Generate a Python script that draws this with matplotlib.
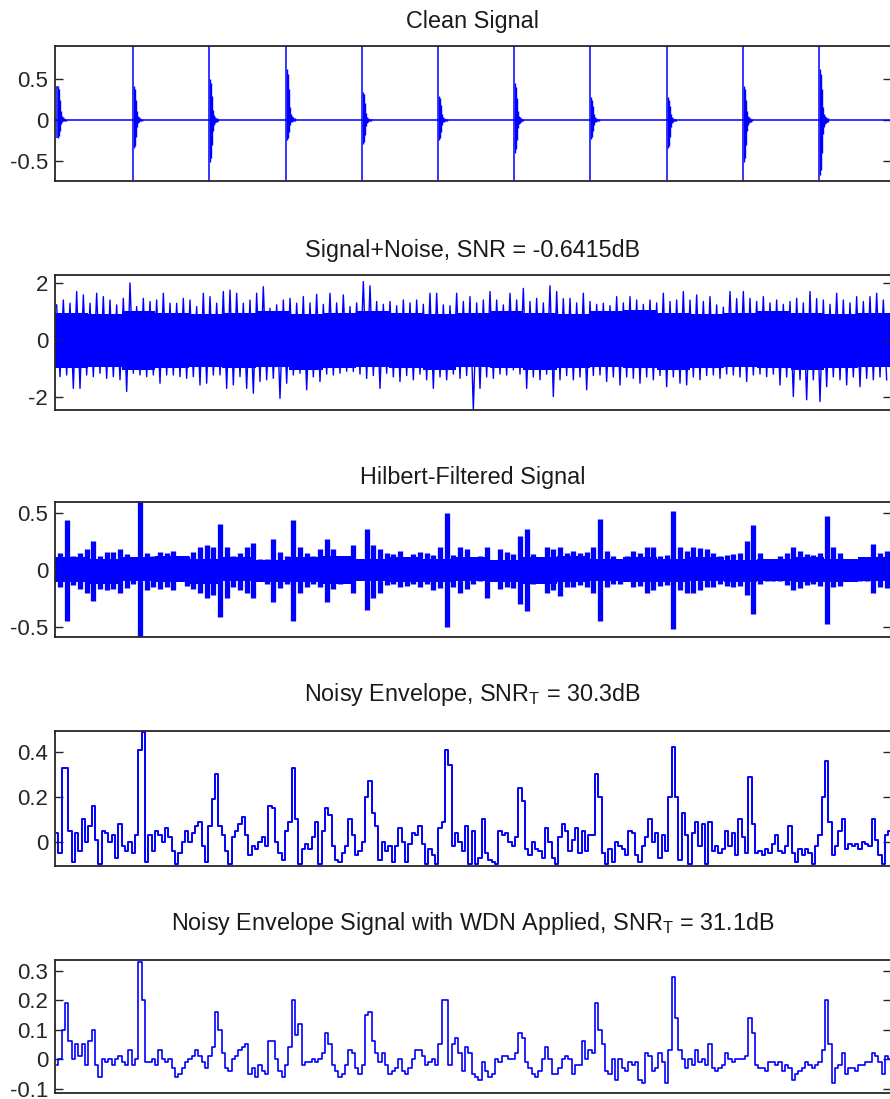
import numpy as np
import matplotlib
matplotlib.use("Agg")
import matplotlib.pyplot as plt

plt.rcParams['font.family'] = ['Liberation Sans', 'DejaVu Sans']
plt.rcParams['axes.unicode_minus'] = False
plt.rcParams['mathtext.fontset'] = 'custom'
plt.rcParams['mathtext.rm'] = 'Liberation Sans'

BLUE = '#0000ff'
FS = 16
FS_TITLE = 16.8

# hidden time axis: one unit per screen column of the original plot
T_END = 836.0
T0 = 5 / 3          # first sample
STEP_FINE = 10 / 3  # envelope sample spacing
STEP_BIN = 20 / 3   # spacing of the max/min bins for dense signals

# ---------------- Clean Signal ----------------
IMPULSE_POS = [2, 78, 154, 231, 307, 383, 459, 535, 612, 688, 764]
IMPULSE_HI = [0.42, 0.91, 0.91, 0.91, 0.91, 0.91, 0.91, 0.91, 0.91, 0.91, 0.91]
IMPULSE_LO = [-0.22, -0.75, -0.75, -0.75, -0.75, -0.75, -0.75, -0.75, -0.75, -0.75, -0.75]
RING_UP = [0.42, 0.42, 0.50, 0.63, 0.35, 0.30, 0.45, 0.28, 0.28, 0.42, 0.63]
RING_DOWN = [0.22, 0.35, 0.52, 0.24, 0.30, 0.25, 0.40, 0.23, 0.35, 0.52, 0.68]
RING_SHAPE = [1.0, 0.9, 0.6, 0.25, 0.12, 0.08, 0.05, 0.04, 0.03]

# ---------------- Signal+Noise (per-bin peaks) ----------------
NOISE_UP = [
    1.23, 1.40, 1.29, 1.70, 1.58, 1.29, 1.64, 1.52, 1.40, 1.23,
    1.46, 2.00, 1.17, 1.46, 1.35, 1.40, 1.64, 1.29, 1.29, 1.46,
    1.40, 1.17, 1.64, 1.52, 1.29, 1.70, 1.75, 1.64, 1.29, 1.40,
    1.64, 1.87, 1.11, 1.23, 1.40, 1.46, 1.29,
    1.52, 1.30, 1.60, 1.25, 1.64, 1.30, 1.58, 1.17, 1.30, 2.05,
    1.90, 1.35, 1.25, 1.35, 1.20, 1.40, 1.30, 1.40, 1.25, 1.64,
    1.64, 1.23, 1.20, 1.64, 1.35, 1.52, 1.30, 1.40, 1.70, 1.40,
    1.23, 1.64, 1.40, 1.81, 1.35, 1.46, 1.30, 1.90, 1.70, 1.45,
    1.46, 1.30, 1.64, 1.35, 1.25, 1.29, 1.20, 1.52, 1.30, 1.52,
    1.40, 1.25, 1.40, 1.30, 1.64, 1.35, 1.40, 1.70, 1.40, 1.58,
    1.35, 1.52, 1.23, 1.15, 1.70, 1.45, 1.70, 1.46, 1.35, 1.52,
    1.30, 1.40, 1.25, 1.35, 1.46, 1.30, 1.70, 1.45, 1.40, 1.25,
    1.64, 1.40, 1.30, 1.52, 1.35, 1.52, 1.64, 1.40,
]
NOISE_DOWN = [
    -1.29, -1.23, -1.70, -1.70, -1.23, -1.29, -1.17, -1.35, -1.29, -1.40,
    -1.81, -1.17, -1.23, -1.29, -1.23, -1.52, -1.23, -1.23, -1.29, -1.35,
    -1.29, -1.58, -1.52, -1.23, -1.23, -1.70, -1.58, -1.29, -1.70, -1.87,
    -1.46, -1.40, -1.35, -2.05, -1.52, -1.23, -1.17,
    -1.75, -1.30, -1.46, -1.20, -1.23, -1.17, -1.10, -1.11, -1.20, -1.35,
    -1.25, -1.70, -1.17, -1.30, -1.46, -1.25, -1.40, -1.20, -1.40, -1.70,
    -1.30, -1.40, -1.20, -1.35, -1.25, -2.46, -1.70, -1.30, -1.35, -1.20,
    -1.23, -1.05, -1.20, -1.70, -1.30, -1.40, -1.20, -1.99, -1.40, -1.25,
    -1.40, -1.30, -1.75, -1.25, -1.23, -1.46, -1.30, -1.58, -1.30, -1.35,
    -1.52, -1.30, -1.40, -1.25, -1.64, -1.30, -1.52, -1.58, -1.30, -1.40,
    -1.25, -1.23, -1.35, -1.20, -1.23, -1.30, -1.46, -1.23, -1.20, -1.29,
    -1.20, -1.58, -1.30, -1.99, -1.40, -2.10, -1.40, -2.16, -1.64, -1.30,
    -1.40, -1.58, -1.30, -1.64, -1.35, -1.40, -1.30, -1.40,
]
NOISE_BODY_TOP = [0.95, 0.90, 1.00, 0.95, 0.90, 0.95, 1.00, 0.90, 0.95, 1.00,
                  0.95, 0.90, 0.95, 1.00, 0.95, 0.90, 1.00, 1.05, 0.95, 0.90,
                  0.95, 1.00, 0.95, 0.90, 0.95]
NOISE_BODY_BOT = [-1.00, -0.95, -1.05, -1.00, -0.95, -1.00, -0.95, -1.05, -1.00, -0.95,
                  -1.00, -1.05, -0.95, -1.00, -1.05, -1.00, -0.95, -1.00, -1.05, -1.00,
                  -0.95, -1.00, -1.05, -1.00, -0.95]

# ---------------- Hilbert-Filtered Signal (per-bin max/min) ----------------
HILB_UP = [
    0.15, 0.44, 0.12, 0.15, 0.18, 0.25, 0.12, 0.16, 0.16, 0.18,
    0.14, 0.10, 0.60, 0.15, 0.12, 0.16, 0.15, 0.17, 0.07, 0.12,
    0.16, 0.20, 0.22, 0.20, 0.40, 0.20, 0.12, 0.15, 0.20, 0.24,
    0.10, 0.10, 0.27, 0.16, 0.12, 0.44, 0.20,
    0.15, 0.12, 0.18, 0.27, 0.18, 0.12, 0.10, 0.22, 0.07, 0.36,
    0.22, 0.18, 0.15, 0.14, 0.17, 0.10, 0.14, 0.16, 0.15, 0.13,
    0.20, 0.50, 0.13, 0.20, 0.18, 0.10, 0.12, 0.20, 0.09, 0.18,
    0.16, 0.14, 0.30, 0.36, 0.14, 0.10, 0.20, 0.18, 0.20, 0.15,
    0.17, 0.15, 0.16, 0.20, 0.45, 0.17, 0.12, 0.10, 0.12, 0.17,
    0.15, 0.20, 0.20, 0.12, 0.13, 0.52, 0.20, 0.17, 0.20, 0.19,
    0.18, 0.15, 0.12, 0.13, 0.14, 0.15, 0.25, 0.39, 0.15, 0.10,
    0.09, 0.12, 0.15, 0.20, 0.17, 0.14, 0.13, 0.15, 0.47, 0.20,
    0.15, 0.10, 0.10, 0.09, 0.10, 0.23, 0.15, 0.17,
]
HILB_LO = [
    -0.15, -0.45, -0.13, -0.17, -0.20, -0.27, -0.17, -0.18, -0.17, -0.20,
    -0.16, -0.12, -0.59, -0.18, -0.15, -0.17, -0.15, -0.18, -0.07, -0.14,
    -0.17, -0.20, -0.25, -0.22, -0.41, -0.25, -0.15, -0.18, -0.20, -0.25,
    -0.10, -0.12, -0.28, -0.16, -0.12, -0.45, -0.20,
    -0.15, -0.12, -0.15, -0.28, -0.17, -0.12, -0.10, -0.20, -0.08, -0.35,
    -0.25, -0.20, -0.13, -0.12, -0.15, -0.14, -0.12, -0.15, -0.12, -0.18,
    -0.16, -0.50, -0.15, -0.20, -0.17, -0.12, -0.10, -0.25, -0.10, -0.17,
    -0.15, -0.16, -0.30, -0.36, -0.12, -0.10, -0.20, -0.18, -0.23, -0.15,
    -0.15, -0.13, -0.15, -0.20, -0.45, -0.15, -0.12, -0.12, -0.10, -0.15,
    -0.14, -0.20, -0.18, -0.14, -0.13, -0.52, -0.18, -0.20, -0.20, -0.18,
    -0.15, -0.15, -0.12, -0.14, -0.15, -0.14, -0.22, -0.39, -0.12, -0.10,
    -0.10, -0.10, -0.13, -0.18, -0.16, -0.13, -0.12, -0.14, -0.47, -0.15,
    -0.14, -0.10, -0.10, -0.10, -0.10, -0.20, -0.15, -0.16,
]
HILB_CORE_TOP = [0.11, 0.10, 0.11, 0.12, 0.10, 0.11, 0.09, 0.11, 0.12, 0.10,
                 0.11, 0.10, 0.11, 0.09, 0.11, 0.12, 0.10, 0.11, 0.10, 0.11,
                 0.09, 0.10, 0.11, 0.10, 0.11]
HILB_CORE_BOT = [-0.11, -0.12, -0.10, -0.11, -0.12, -0.10, -0.11, -0.11, -0.12, -0.10,
                 -0.11, -0.11, -0.10, -0.11, -0.12, -0.11, -0.10, -0.11, -0.11, -0.10,
                 -0.11, -0.10, -0.11, -0.11, -0.10]

# ---------------- Noisy Envelope ----------------
ENV_NOISY = [
    0.04, -0.05, 0.33, 0.33, 0.05, -0.09, 0.04, -0.04, 0.10, 0.00,
    0.07, 0.16, 0.01, -0.10, 0.05, 0.04, 0.00, 0.03, -0.07, 0.08,
    -0.02, -0.04, 0.00, -0.05, 0.03, 0.41, 0.49, -0.09, 0.03, -0.04,
    0.05, 0.03, 0.00, 0.06, 0.02, -0.04, -0.10, -0.05, 0.00, 0.05,
    0.00, 0.04, 0.07, 0.09, -0.02, -0.09, 0.07, 0.19, 0.30, 0.07,
    0.03, -0.04, -0.10, 0.02, 0.05, 0.08, 0.11, 0.03, -0.06, -0.02,
    -0.03, 0.00, 0.02, -0.02, 0.16, 0.15, 0.00, -0.05, -0.08, 0.05,
    0.09, 0.33, 0.10, -0.10,
    -0.03, -0.01, -0.03, 0.02, 0.09, -0.10, 0.05, 0.15, 0.12, -0.02,
    -0.08, -0.09, -0.05, -0.02, 0.10, 0.03, -0.06, -0.04, 0.00, 0.20,
    0.27, 0.13, 0.07, -0.08, 0.00, -0.04, -0.02, -0.09, -0.02, 0.06,
    0.00, -0.09, -0.01, 0.04, 0.03, 0.07, -0.01, -0.10, -0.03, -0.06,
    -0.10, 0.06, 0.09, 0.41, 0.34, -0.02, 0.04, 0.00, -0.04, 0.07,
    -0.10, 0.05, -0.10, -0.07, 0.10, -0.05, -0.08, -0.09, -0.10, 0.05,
    0.03, 0.04, 0.00, -0.02, 0.02, 0.24, 0.18, -0.03, -0.06, 0.00,
    -0.03, -0.04, -0.07, 0.06, 0.00, -0.07, -0.10, 0.02, 0.08, 0.05,
    -0.04, 0.01, 0.06, -0.05, 0.05, -0.04, 0.03, 0.03, 0.30, 0.20,
    -0.05, -0.10, -0.03, -0.09, 0.00, -0.02, -0.03, -0.06, 0.05, 0.04,
    -0.06, -0.09, -0.02, 0.02, 0.10, 0.00, 0.04, -0.07, 0.03, -0.04,
    0.20, 0.42, 0.20, -0.08, 0.13, 0.03, -0.10, 0.04, 0.09, -0.02,
    0.08, -0.10, 0.09, -0.04, -0.02, -0.05, -0.03, 0.05, -0.02, 0.04,
    -0.06, 0.10, 0.02, -0.05, 0.29, 0.08, -0.05, -0.04, -0.06, -0.03,
    -0.05, -0.01, 0.03, -0.04, -0.05, -0.02, 0.07, -0.05, -0.09, -0.03,
    -0.06, -0.03, -0.05, -0.10, -0.02, 0.03, 0.20, 0.36, 0.09, -0.06,
    -0.02, 0.05, 0.10, -0.03, -0.01, -0.02, -0.01, -0.03, 0.00, -0.01,
    -0.02, 0.10, 0.01, -0.06, -0.10, 0.03, 0.05,
]

# ---------------- Envelope with WDN ----------------
ENV_WDN = [
    -0.02, 0.00, 0.10, 0.19, 0.06, 0.00, 0.05, 0.01, 0.05, -0.02,
    0.06, 0.10, -0.02, -0.06, 0.00, -0.01, 0.00, -0.02, 0.00, 0.01,
    -0.01, -0.02, 0.03, -0.02, 0.00, 0.33, 0.20, -0.01, -0.01, 0.00,
    -0.02, 0.03, 0.00, -0.01, 0.00, -0.03, -0.06, -0.05, -0.03, -0.01,
    0.00, 0.01, 0.03, 0.01, -0.01, -0.03, 0.01, 0.04, 0.16, 0.10,
    0.02, -0.03, -0.04, 0.00, 0.01, 0.03, 0.04, 0.05, -0.05, -0.03,
    -0.06, -0.02, -0.04, -0.05, 0.06, 0.06, 0.00, -0.04, -0.06, -0.02,
    0.04, 0.20, 0.08, 0.12,
    -0.02, -0.01, -0.01, 0.00, -0.01, 0.00, 0.02, 0.09, 0.05, -0.02,
    -0.04, -0.06, -0.05, -0.02, 0.03, 0.02, -0.03, -0.05, -0.02, 0.15,
    0.16, 0.06, 0.02, -0.01, 0.02, -0.02, -0.05, -0.04, -0.03, 0.00,
    -0.04, -0.05, -0.03, 0.00, 0.03, 0.03, 0.01, -0.02, -0.01, 0.00,
    -0.02, 0.05, 0.20, 0.20, -0.02, 0.05, 0.07, 0.02, -0.04, 0.04,
    0.02, -0.05, -0.06, -0.07, -0.01, -0.04, -0.06, -0.05, 0.00, -0.01,
    0.01, 0.01, 0.00, 0.00, 0.02, 0.09, 0.07, -0.01, -0.03, -0.05,
    -0.06, -0.04, 0.00, 0.04, 0.00, -0.05, -0.05, -0.03, 0.00, 0.01,
    0.00, -0.05, -0.02, -0.02, 0.06, 0.00, 0.03, 0.02, 0.19, 0.10,
    0.05, -0.04, -0.05, 0.00, -0.07, 0.00, -0.03, -0.04, -0.01, -0.02,
    -0.01, -0.07, -0.08, 0.02, 0.01, -0.04, -0.03, 0.02, -0.01, -0.08,
    0.03, 0.28, 0.14, 0.03, 0.00, -0.03, 0.00, -0.02, 0.03, -0.01,
    0.00, -0.02, 0.05, -0.03, -0.04, -0.03, -0.02, 0.02, 0.00, -0.01,
    0.00, 0.00, 0.00, 0.01, 0.14, 0.09, -0.02, -0.03, -0.03, -0.04,
    -0.01, -0.01, -0.02, -0.01, -0.04, -0.02, -0.03, -0.07, -0.05, -0.04,
    -0.03, -0.01, -0.02, -0.03, -0.02, -0.01, 0.03, 0.20, 0.05, -0.08,
    -0.03, -0.02, 0.02, -0.05, -0.03, -0.03, -0.04, -0.02, -0.02, -0.01,
    -0.01, 0.02, 0.01, -0.01, -0.05, 0.01, 0.00,
]

TITLES = [
    "Clean Signal",
    "Signal+Noise, SNR = -0.6415dB",
    "Hilbert-Filtered Signal",
    r"Noisy Envelope, SNR$_\mathregular{T}$ = 30.3dB",
    r"Noisy Envelope Signal with WDN Applied, SNR$_\mathregular{T}$ = 31.1dB",
]
YLIMS = [(-0.75, 0.91), (-2.46, 2.28), (-0.588, 0.596), (-0.107, 0.493), (-0.115, 0.336)]
YTICKS = [[-0.5, 0, 0.5], [-2, 0, 2], [-0.5, 0, 0.5], [0, 0.2, 0.4], [-0.1, 0, 0.1, 0.2, 0.3]]
YTICKLABELS = [["-0.5", "0", "0.5"], ["-2", "0", "2"], ["-0.5", "0", "0.5"],
               ["0", "0.2", "0.4"], ["-0.1", "0", "0.1", "0.2", "0.3"]]
TITLE_PAD = [13, 13, 13, 21.5, 21.5]

# axes boxes in pixels of the 890x1099 original: (top, bottom)
W, H = 890, 1099
BOXES = [(46, 181), (275, 410), (502, 637), (731, 866), (960, 1093)]

fig = plt.figure(figsize=(W / 100, H / 100), dpi=100)
axes = []
for top, bottom in BOXES:
    ax = fig.add_axes([55 / W, 1 - bottom / H, 836 / W, (bottom - top) / H])
    axes.append(ax)

# Clean signal
ax = axes[0]
ax.plot([0, T_END], [0, 0], color=BLUE, lw=1.1)
ax.vlines(IMPULSE_POS, IMPULSE_LO, IMPULSE_HI, color=BLUE, lw=1.1)
shape = np.array(RING_SHAPE)
for pos, up, down in zip(IMPULSE_POS, RING_UP, RING_DOWN):
    offs = pos + np.arange(len(shape)) + 0.5
    ax.vlines(offs, -down * shape, up * shape, color=BLUE, lw=1.0)

# Signal + noise: solid body plus alternating peaks
ax = axes[1]
body_edges = np.linspace(0, T_END, len(NOISE_BODY_TOP) + 1)
ax.fill_between(body_edges, np.append(NOISE_BODY_BOT, NOISE_BODY_BOT[-1]),
                np.append(NOISE_BODY_TOP, NOISE_BODY_TOP[-1]),
                step='post', color=BLUE, lw=0)
x_up = T0 + STEP_BIN * np.arange(len(NOISE_UP))
xs = np.column_stack([x_up, x_up + STEP_BIN / 2]).ravel()
ys = np.column_stack([NOISE_UP, NOISE_DOWN]).ravel()
ax.plot(xs, ys, color=BLUE, lw=1.0)

# Hilbert filtered: solid core plus per-bin extents
ax = axes[2]
core_edges = np.linspace(0, T_END, len(HILB_CORE_TOP) + 1)
ax.fill_between(core_edges, np.append(HILB_CORE_BOT, HILB_CORE_BOT[-1]),
                np.append(HILB_CORE_TOP, HILB_CORE_TOP[-1]),
                step='post', color=BLUE, lw=0)
x_bin = T0 + STEP_BIN * np.arange(len(HILB_UP)) + STEP_BIN / 2
ax.vlines(x_bin, HILB_LO, HILB_UP, color=BLUE, lw=3.8)

# Envelopes
for ax, env, lw in ((axes[3], ENV_NOISY, 1.4), (axes[4], ENV_WDN, 1.2)):
    t = T0 + STEP_FINE * np.arange(len(env))
    ax.plot(t, env, color=BLUE, lw=lw, drawstyle='steps-mid')

for ax, title, ylim, yt, ytl, pad in zip(axes, TITLES, YLIMS, YTICKS, YTICKLABELS, TITLE_PAD):
    ax.set_xlim(0, T_END)
    ax.set_ylim(*ylim)
    ax.set_xticks([])
    ax.set_yticks(yt)
    ax.set_yticklabels(ytl)
    ax.tick_params(axis='y', direction='in', length=6, width=1.0, labelsize=FS,
                   right=True, pad=5, colors='#262626')
    for sp in ax.spines.values():
        sp.set_linewidth(1.3)
        sp.set_color('#262626')
    ax.set_title(title, fontsize=FS_TITLE, pad=pad, color='#1a1a1a')

fig.savefig('out.png', dpi=100)
